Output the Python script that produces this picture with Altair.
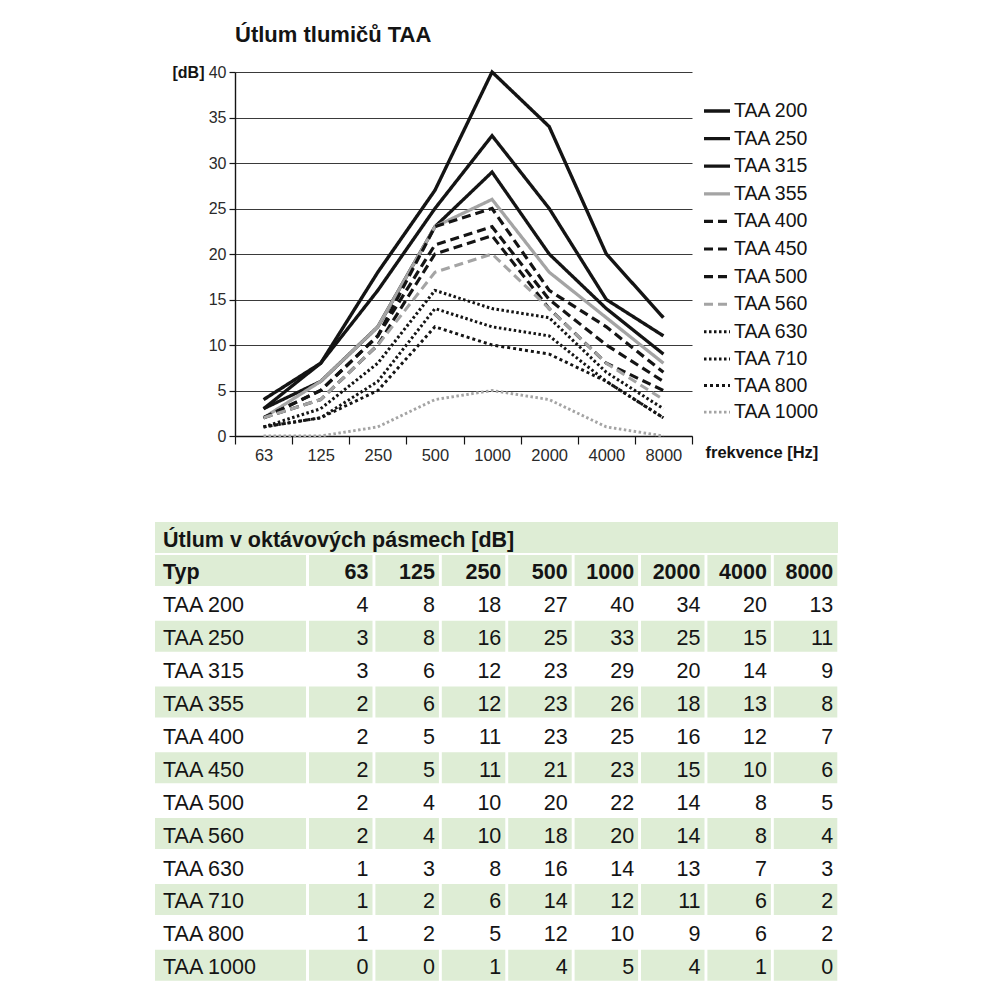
import altair as alt
import pandas as pd

# ---------------- data ----------------
FREQS = ["63", "125", "250", "500", "1000", "2000", "4000", "8000"]
SERIES = ["TAA 200", "TAA 250", "TAA 315", "TAA 355", "TAA 400", "TAA 450",
          "TAA 500", "TAA 560", "TAA 630", "TAA 710", "TAA 800", "TAA 1000"]
TAA_200 = [4, 8, 18, 27, 40, 34, 20, 13]
TAA_250 = [3, 8, 16, 25, 33, 25, 15, 11]
TAA_315 = [3, 6, 12, 23, 29, 20, 14, 9]
TAA_355 = [2, 6, 12, 23, 26, 18, 13, 8]
TAA_400 = [2, 5, 11, 23, 25, 16, 12, 7]
TAA_450 = [2, 5, 11, 21, 23, 15, 10, 6]
TAA_500 = [2, 4, 10, 20, 22, 14, 8, 5]
TAA_560 = [2, 4, 10, 18, 20, 14, 8, 4]
TAA_630 = [1, 3, 8, 16, 14, 13, 7, 3]
TAA_710 = [1, 2, 6, 14, 12, 11, 6, 2]
TAA_800 = [1, 2, 5, 12, 10, 9, 6, 2]
TAA_1000 = [0, 0, 1, 4, 5, 4, 1, 0]
VALUES = [TAA_200, TAA_250, TAA_315, TAA_355, TAA_400, TAA_450,
          TAA_500, TAA_560, TAA_630, TAA_710, TAA_800, TAA_1000]
Y_TICKS = [0, 5, 10, 15, 20, 25, 30, 35, 40]

TITLE = "Útlum tlumičů TAA"
Y_TITLE = "[dB]"
X_TITLE = "frekvence [Hz]"
TABLE_TITLE = "Útlum v oktávových pásmech [dB]"
TYP = "Typ"

# ---------------- styles ----------------
FONT = "Liberation Sans"
BLACK = "#141414"
GRAY = "#a4a4a4"
GREEN = "#deedd5"
COLORS = [BLACK, BLACK, BLACK, GRAY, BLACK, BLACK, BLACK, GRAY, BLACK, BLACK, BLACK, GRAY]
SOLID = [1, 0]
DASH = [9, 5]
DOT = [2.5, 2.5]
DASHES = [SOLID, SOLID, SOLID, SOLID, DASH, DASH, DASH, DASH, DOT, DOT, [3, 3], DOT]
WIDTHS = [3.4, 2.9, 2.9, 3.2, 2.9, 3.4, 2.9, 3.2, 2.6, 2.6, 3.4, 2.7]

# ---------------- line chart ----------------
rows = []
for s, vals in zip(SERIES, VALUES):
    for i, (f, v) in enumerate(zip(FREQS, vals)):
        rows.append({"series": s, "freq": f, "fi": i, "value": v})
long_df = pd.DataFrame(rows)

legend = alt.Legend(
    title=None, orient="none", legendX=467, legendY=24,
    symbolType="stroke", symbolSize=676, labelFont=FONT, labelFontSize=19.5,
    labelColor=BLACK, labelOffset=2, rowPadding=2.6, padding=0,
)

lines = alt.Chart(long_df).mark_line(strokeJoin="miter", strokeCap="butt").encode(
    x=alt.X("freq:N", sort=FREQS, bandPosition=0.5,
            scale=alt.Scale(type="band", domain=FREQS, paddingInner=0, paddingOuter=0),
            axis=alt.Axis(title=X_TITLE, labelAngle=0, tickBand="extent", tickSize=8,
                          tickColor=BLACK, tickWidth=1.2, domainColor=BLACK, domainWidth=1.4,
                          labelFont=FONT, labelFontSize=16.5, labelColor="#2a2a2a",
                          labelPadding=3, grid=False,
                          titleFont=FONT, titleFontSize=16.5, titleFontWeight="bold",
                          titleColor=BLACK, titleX=470, titleY=21, titleAlign="left",
                          titleBaseline="alphabetic")),
    y=alt.Y("value:Q", scale=alt.Scale(domain=[0, 40], nice=False),
            axis=alt.Axis(values=Y_TICKS, title=Y_TITLE, grid=True, gridColor="#3a3a3a",
                          gridWidth=1, tickSize=6, tickColor=BLACK, tickWidth=1.2,
                          domainColor=BLACK, domainWidth=1.4, labelFont=FONT,
                          labelFontSize=16, labelColor="#2a2a2a", labelPadding=3,
                          titleFont=FONT, titleFontSize=16, titleFontWeight="bold",
                          titleColor=BLACK, titleAngle=0, titleX=-63, titleY=0,
                          titleAlign="left", titleBaseline="middle")),
    color=alt.Color("series:N", sort=SERIES, scale=alt.Scale(domain=SERIES, range=COLORS),
                    legend=legend),
    strokeDash=alt.StrokeDash("series:N", sort=SERIES,
                              scale=alt.Scale(domain=SERIES, range=DASHES), legend=legend),
    strokeWidth=alt.StrokeWidth("series:N", sort=SERIES,
                                scale=alt.Scale(domain=SERIES, range=WIDTHS), legend=legend),
    order=alt.Order("fi:Q"),
)

# ---------------- table ----------------
TABLE_W = 683
TABLE_H = 463
TYP_W = 151
COL_START = 154
COL_PITCH = 66.4
COL_W = 63.5
ROW_PITCH = 32.9
ROW_H = 31


def col_edges(c):
    if c == 0:
        return 0, TYP_W
    s = COL_START + (c - 1) * COL_PITCH
    return s, s + COL_W


rect_rows = []
text_rows = []
# title row
rect_rows.append({"x0": 0, "x1": TABLE_W, "y0": 0, "y1": ROW_H})
text_rows.append({"x": 8, "y": ROW_H / 2, "label": TABLE_TITLE, "kind": "lb"})
# header row
header = [TYP] + FREQS
for c, lab in enumerate(header):
    x0, x1 = col_edges(c)
    y0 = ROW_PITCH
    rect_rows.append({"x0": x0, "x1": x1, "y0": y0, "y1": y0 + ROW_H})
    if c == 0:
        text_rows.append({"x": x0 + 8, "y": y0 + ROW_H / 2, "label": lab, "kind": "lb"})
    else:
        text_rows.append({"x": x1 - 4, "y": y0 + ROW_H / 2, "label": lab, "kind": "rb"})
# data rows
for r, (s, vals) in enumerate(zip(SERIES, VALUES)):
    y0 = (r + 2) * ROW_PITCH
    green = (r % 2 == 1)
    cells = [s] + [str(v) for v in vals]
    for c, lab in enumerate(cells):
        x0, x1 = col_edges(c)
        if green:
            rect_rows.append({"x0": x0, "x1": x1, "y0": y0, "y1": y0 + ROW_H})
        if c == 0:
            text_rows.append({"x": x0 + 8, "y": y0 + ROW_H / 2, "label": lab, "kind": "l"})
        else:
            text_rows.append({"x": x1 - 4, "y": y0 + ROW_H / 2, "label": lab, "kind": "r"})

rect_df = pd.DataFrame(rect_rows)
text_df = pd.DataFrame(text_rows)

TX = alt.Scale(domain=[0, TABLE_W], range=[-80, TABLE_W - 80], nice=False, zero=False)
TY = alt.Scale(domain=[0, TABLE_H], range=[450, 450 + TABLE_H], nice=False, zero=False)

rects = alt.Chart(rect_df).mark_rect(fill=GREEN, strokeWidth=0).encode(
    x=alt.X("x0:Q", scale=TX, axis=None), x2="x1:Q",
    y=alt.Y("y0:Q", scale=TY, axis=None), y2="y1:Q",
)


def text_layer(kind, align, weight):
    return alt.Chart(text_df).transform_filter(alt.datum.kind == kind).mark_text(
        align=align, baseline="middle", font=FONT, fontSize=21.5, fontWeight=weight,
        color=BLACK, dy=3,
    ).encode(
        x=alt.X("x:Q", scale=TX, axis=None),
        y=alt.Y("y:Q", scale=TY, axis=None),
        text="label:N",
    )


texts = [text_layer("lb", "left", "bold"), text_layer("rb", "right", "bold"),
         text_layer("l", "left", "normal"), text_layer("r", "right", "normal")]

chart = alt.layer(lines, rects, *texts).resolve_scale(
    x="independent", y="independent"
).properties(
    width=457, height=364,
    title=alt.TitleParams(TITLE, anchor="start", frame="group", font=FONT, fontSize=22,
                          fontWeight="bold", color=BLACK, baseline="alphabetic", offset=0),
    autosize=alt.AutoSizeParams(type="none"),
    padding={"left": 227, "top": 64, "right": 170, "bottom": 550},
).configure_view(stroke=None)

chart.save("out.html", embed_options={"renderer": "svg", "actions": False})
